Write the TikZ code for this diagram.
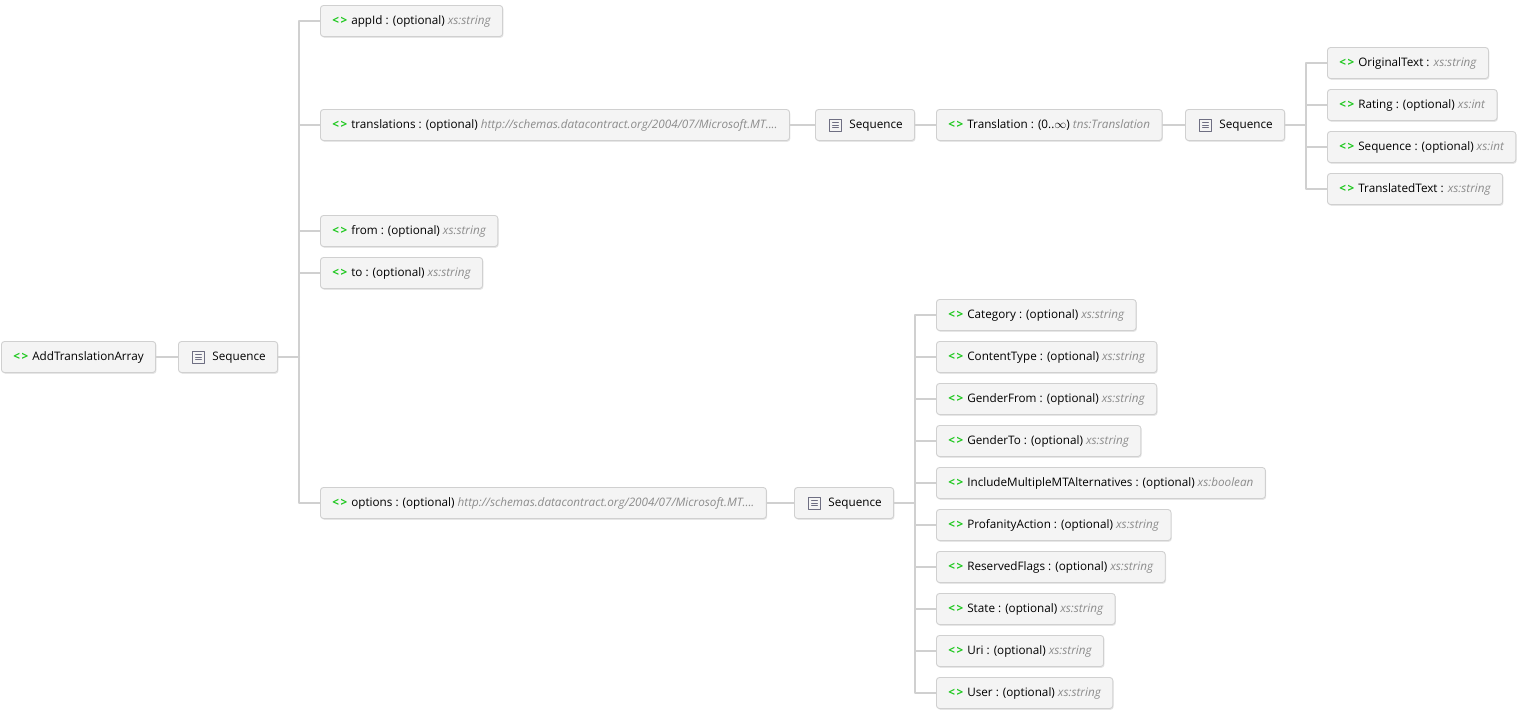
\documentclass[tikz,border=0pt]{standalone}
\usepackage{fontspec}
\setmainfont{Open Sans}
\usetikzlibrary{shadows}
\definecolor{elgreen}{HTML}{1EC81E}
\definecolor{typegray}{HTML}{8C8C8C}
\definecolor{wiregray}{HTML}{D0D0D0}
\definecolor{boxfill}{HTML}{F4F4F4}
\definecolor{boxline}{HTML}{D0D0D0}
\definecolor{seqicon}{HTML}{6E6E82}
\newcommand{\elic}{{\color{elgreen}\bfseries<\kern1.5pt>}\hspace{4pt}}
\newcommand{\xtype}[1]{{\itshape\color{typegray}#1}}
\newcommand{\seqtxt}{\hspace*{22pt}Sequence}
\begin{document}
\begin{tikzpicture}[x=1pt,y=-1pt,line join=round,line cap=round,font=\fontsize{11.7}{13}\selectfont,
	box/.style={draw=boxline,line width=.9pt,fill=boxfill,rounded corners=3pt,minimum height=31pt,inner xsep=12pt,inner ysep=0pt,
		text height=9pt,text depth=2pt,anchor=west,
		drop shadow={opacity=.2,shadow xshift=.8pt,shadow yshift=-1.3pt}},
	seq/.style={box,path picture={
		\draw[seqicon,line width=.7pt,rounded corners=0pt]
		([xshift=14pt,yshift=6pt]path picture bounding box.west) rectangle ++(12,12)
		([xshift=17pt,yshift=2.5pt]path picture bounding box.west) --++(6,0)
		([xshift=17pt,yshift=0pt]path picture bounding box.west) --++(6,0)
		([xshift=17pt,yshift=-2.5pt]path picture bounding box.west) --++(6,0);}},
	wire/.style={draw=wiregray,line width=1.8pt}]
	\useasboundingbox (0,0) rectangle (1519,714);
	% root and first sequence
	\node[box] (root) at (1,357) {\elic AddTranslationArray};
	\node[seq] (s1) at (178,357) {\seqtxt};
	\coordinate (b1) at ([xshift=21pt]s1.east);
	% children of the first sequence
	\node[box] (appid) at (320,21) {\elic appId : (optional) \xtype{xs:string}};
	\node[box] (trans) at (320,125) {\elic translations : (optional) \xtype{http://schemas.datacontract.org/2004/07/Microsoft.MT....}};
	\node[box] (from) at (320,231) {\elic from : (optional) \xtype{xs:string}};
	\node[box] (to) at (320,273) {\elic to : (optional) \xtype{xs:string}};
	\node[box] (opts) at (320,503) {\elic options : (optional) \xtype{http://schemas.datacontract.org/2004/07/Microsoft.MT....}};
	% translations branch
	\node[seq] (s2) at (815,125) {\seqtxt};
	\node[box] (tr) at (936,125) {\elic Translation : (0..$\infty$) \xtype{tns:Translation}};
	\node[seq] (s3) at (1185,125) {\seqtxt};
	\coordinate (b2) at ([xshift=21pt]s3.east);
	\node[box] (orig) at (1327,63) {\elic OriginalText : \xtype{xs:string}};
	\node[box] (rate) at (1327,105) {\elic Rating : (optional) \xtype{xs:int}};
	\node[box] (sqn) at (1327,147) {\elic Sequence : (optional) \xtype{xs:int}};
	\node[box] (ttxt) at (1327,189) {\elic TranslatedText : \xtype{xs:string}};
	% options branch
	\node[seq] (s4) at (794,503) {\seqtxt};
	\coordinate (b3) at ([xshift=21pt]s4.east);
	\node[box] (cat) at (936,315) {\elic Category : (optional) \xtype{xs:string}};
	\node[box] (ctype) at (936,357) {\elic ContentType : (optional) \xtype{xs:string}};
	\node[box] (gfrom) at (936,399) {\elic GenderFrom : (optional) \xtype{xs:string}};
	\node[box] (gto) at (936,441) {\elic GenderTo : (optional) \xtype{xs:string}};
	\node[box] (incl) at (936,483) {\elic IncludeMultipleMTAlternatives : (optional) \xtype{xs:boolean}};
	\node[box] (prof) at (936,525) {\elic ProfanityAction : (optional) \xtype{xs:string}};
	\node[box] (resv) at (936,567) {\elic ReservedFlags : (optional) \xtype{xs:string}};
	\node[box] (state) at (936,609) {\elic State : (optional) \xtype{xs:string}};
	\node[box] (uri) at (936,651) {\elic Uri : (optional) \xtype{xs:string}};
	\node[box] (user) at (936,693) {\elic User : (optional) \xtype{xs:string}};
	% connectors
	\draw[wire] (root)--(s1) (s1)--(b1)
	(b1)|-(appid.west) (b1)|-(trans.west) (b1)|-(from.west) (b1)|-(to.west) (b1)|-(opts.west);
	\draw[wire] (trans)--(s2) (s2)--(tr) (tr)--(s3) (s3)--(b2)
	(b2)|-(orig.west) (b2)|-(rate.west) (b2)|-(sqn.west) (b2)|-(ttxt.west);
	\draw[wire] (opts)--(s4) (s4)--(b3)
	(b3)|-(cat.west) (b3)|-(ctype.west) (b3)|-(gfrom.west) (b3)|-(gto.west) (b3)|-(incl.west)
	(b3)|-(prof.west) (b3)|-(resv.west) (b3)|-(state.west) (b3)|-(uri.west) (b3)|-(user.west);
\end{tikzpicture}
\end{document}
